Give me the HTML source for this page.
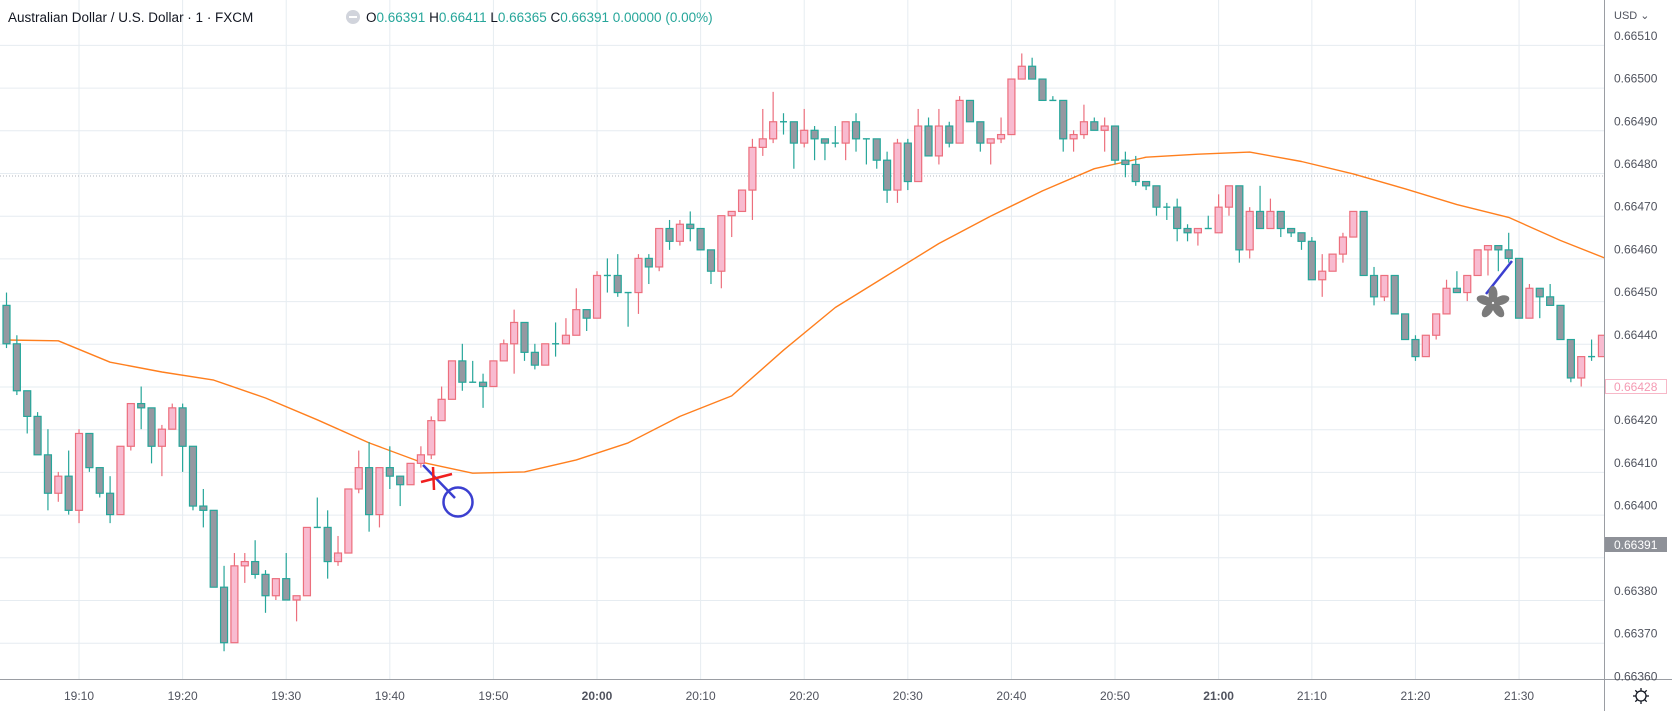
<!DOCTYPE html>
<html><head><meta charset="utf-8">
<style>
html,body{margin:0;padding:0;background:#fff;width:1672px;height:711px;overflow:hidden;font-family:"Liberation Sans",sans-serif;}
svg{display:block}
</style></head>
<body>
<svg id="chart" width="1672" height="711" xmlns="http://www.w3.org/2000/svg">
  <rect x="0" y="0" width="1672" height="711" fill="#fff"/>
  <g id="grid"></g>
  <line x1="0" x2="1604" y1="176" y2="176" stroke="#b2b5be" stroke-dasharray="1,2" stroke-width="1"/>
  <g id="ma"></g>
  <g id="candles"></g>
  <g id="drawings">
    <line x1="423" y1="465" x2="455" y2="498" stroke="#3b3fd0" stroke-width="2.5"/>
    <circle cx="458" cy="502" r="14.5" fill="none" stroke="#3b3fd0" stroke-width="2.5"/>
    <line x1="421" y1="482" x2="452" y2="474" stroke="#f01f1f" stroke-width="2.5"/>
    <line x1="433" y1="467" x2="434" y2="490" stroke="#f01f1f" stroke-width="2.5"/>
    <line x1="1486" y1="294" x2="1512" y2="261" stroke="#3b3fd0" stroke-width="2.5"/>
    <g fill="#7b7b7b" transform="translate(1493,303)">
      <ellipse cx="0" cy="-9" rx="4.5" ry="8"/>
      <ellipse cx="0" cy="-9" rx="4.5" ry="8" transform="rotate(72)"/>
      <ellipse cx="0" cy="-9" rx="4.5" ry="8" transform="rotate(144)"/>
      <ellipse cx="0" cy="-9" rx="4.5" ry="8" transform="rotate(216)"/>
      <ellipse cx="0" cy="-9" rx="4.5" ry="8" transform="rotate(288)"/>
    </g>
  </g>
  <rect x="1605" y="0" width="67" height="711" fill="#fff"/>
  <rect x="0" y="680" width="1672" height="31" fill="#fff"/>
  <line x1="1604.5" y1="0" x2="1604.5" y2="711" stroke="#9a9da3" stroke-width="1"/>
  <line x1="0" y1="679.5" x2="1672" y2="679.5" stroke="#9a9da3" stroke-width="1"/>
  <g id="yaxis"></g>
  <g id="xaxis"></g>
  <text x="1614" y="19" font-size="11" fill="#50535e">USD ⌄</text>
  <rect x="1605" y="537" width="62" height="15" fill="#8e9198"/>
  <text x="1614" y="549" font-size="12" fill="#fff">0.66391</text>
  <rect x="1605.5" y="379.5" width="61" height="14" fill="#fff" stroke="#f7b8c8"/>
  <text x="1614" y="391" font-size="12" fill="#f49ab3">0.66428</text>
  <g transform="translate(1641,696)" stroke="#131722" fill="none" stroke-width="1.3">
    <circle r="5"/>
    <line x1="0" y1="-8" x2="0" y2="-5"/><line x1="0" y1="5" x2="0" y2="8"/>
    <line x1="-8" y1="0" x2="-5" y2="0"/><line x1="5" y1="0" x2="8" y2="0"/>
    <line x1="-5.7" y1="-5.7" x2="-3.5" y2="-3.5"/><line x1="3.5" y1="3.5" x2="5.7" y2="5.7"/>
    <line x1="5.7" y1="-5.7" x2="3.5" y2="-3.5"/><line x1="-3.5" y1="3.5" x2="-5.7" y2="5.7"/>
  </g>
  <g>
    <text x="8" y="22" font-size="13.5" fill="#131722">Australian Dollar / U.S. Dollar · 1 · FXCM</text>
    <circle cx="353" cy="17" r="7" fill="#d1d4dc"/>
    <rect x="349" y="16" width="8" height="2" fill="#fff"/>
    <text x="366" y="22" font-size="13.5" fill="#26a69a"><tspan fill="#131722">O</tspan>0.66391 <tspan fill="#131722">H</tspan>0.66411 <tspan fill="#131722">L</tspan>0.66365 <tspan fill="#131722">C</tspan>0.66391 0.00000 (0.00%)</text>
  </g>
</svg>
<script>
const opens=[66449,66440,66429,66423,66414,66405,66409,66401,66419,66411,66405,66400,66416,66426,66425,66416,66420,66425,66416,66402,66401,66383,66370,66388,66389,66386,66381,66385,66380,66381,66397,66397,66389,66391,66406,66411,66400,66411,66409,66407,66412,66414,66422,66427,66436,66431,66431,66430,66436,66440,66445,66438,66435,66440,66440,66442,66448,66446,66456,66456,66452,66452,66460,66458,66467,66464,66468,66467,66462,66457,66470,66471,66476,66486,66488,66492,66492,66487,66490,66488,66487,66487,66492,66488,66488,66483,66476,66487,66478,66491,66484,66491,66487,66497,66492,66487,66488,66489,66502,66505,66502,66497,66497,66488,66489,66492,66490,66491,66483,66482,66478,66477,66472,66472,66467,66466,66467,66466,66472,66477,66462,66471,66467,66471,66467,66466,66464,66455,66457,66461,66465,66471,66456,66451,66456,66447,66441,66437,66442,66447,66453,66452,66456,66462,66463,66462,66460,66446,66453,66451,66449,66441,66432,66437,66437];
const highs=[66452,66442,66429,66424,66420,66410,66415,66420,66419,66411,66409,66416,66426,66430,66425,66421,66426,66426,66416,66406,66401,66388,66391,66391,66394,66387,66385,66391,66381,66397,66404,66401,66395,66406,66415,66417,66411,66416,66409,66412,66416,66423,66430,66436,66440,66436,66433,66436,66441,66448,66445,66440,66440,66445,66446,66453,66448,66457,66460,66461,66452,66461,66461,66467,66469,66469,66471,66467,66462,66470,66471,66476,66488,66495,66499,66494,66492,66495,66491,66488,66491,66492,66494,66488,66488,66485,66488,66488,66495,66493,66495,66492,66498,66497,66492,66488,66493,66502,66508,66507,66502,66498,66497,66490,66496,66493,66493,66491,66485,66484,66478,66477,66473,66474,66468,66467,66470,66475,66477,66477,66472,66477,66474,66471,66467,66466,66465,66461,66461,66466,66471,66471,66458,66456,66456,66447,66442,66442,66447,66455,66457,66456,66462,66463,66463,66466,66460,66454,66453,66454,66449,66441,66437,66441,66442];
const lows=[66439,66428,66419,66414,66401,66403,66400,66398,66410,66404,66398,66400,66415,66420,66412,66409,66420,66410,66401,66397,66383,66368,66370,66384,66385,66377,66380,66380,66375,66381,66397,66385,66388,66391,66405,66396,66397,66406,66402,66407,66411,66413,66422,66427,66429,66431,66425,66430,66436,66433,66436,66434,66435,66437,66440,66442,66443,66446,66452,66451,66444,66447,66454,66457,66462,66463,66464,66462,66454,66453,66465,66471,66469,66484,66487,66489,66481,66486,66483,66483,66486,66483,66485,66482,66481,66473,66473,66476,66478,66484,66482,66486,66487,66492,66485,66482,66487,66489,66502,66502,66497,66497,66485,66485,66488,66490,66485,66482,66479,66477,66476,66470,66469,66464,66464,66463,66467,66466,66470,66459,66460,66467,66467,66465,66465,66462,66455,66451,66457,66459,66465,66456,66449,66450,66447,66441,66436,66437,66441,66447,66452,66450,66456,66456,66457,66459,66446,66446,66446,66449,66441,66431,66430,66436,66437];
const closes=[66440,66429,66423,66414,66405,66409,66401,66419,66411,66405,66400,66416,66426,66425,66416,66420,66425,66416,66402,66401,66383,66370,66388,66389,66386,66381,66385,66380,66381,66397,66397,66389,66391,66406,66411,66400,66411,66409,66407,66412,66414,66422,66427,66436,66431,66431,66430,66436,66440,66445,66438,66435,66440,66440,66442,66448,66446,66456,66456,66452,66452,66460,66458,66467,66464,66468,66467,66462,66457,66470,66471,66476,66486,66488,66492,66492,66487,66490,66488,66487,66487,66492,66488,66488,66483,66476,66487,66478,66491,66484,66491,66487,66497,66492,66487,66488,66489,66502,66505,66502,66497,66497,66488,66489,66492,66490,66491,66483,66482,66478,66477,66472,66472,66467,66466,66467,66467,66472,66477,66462,66471,66467,66471,66467,66466,66464,66455,66457,66461,66465,66471,66456,66451,66456,66447,66441,66437,66442,66447,66453,66452,66456,66462,66463,66462,66460,66446,66453,66451,66449,66441,66432,66437,66437,66442];
const maIdx=[0,5,10,15,20,25,30,35,40,45,50,55,60,65,70,75,80,85,90,95,100,105,110,115,120,125,130,135,140,145,150,155];
const maVals=[66440.9,66440.7,66435.7,66433.4,66431.5,66427.3,66422.2,66416.8,66412.3,66409.7,66410.0,66412.8,66416.8,66423.0,66427.8,66438.5,66448.5,66456.0,66463.5,66469.9,66475.8,66481.0,66483.7,66484.4,66484.9,66482.7,66479.8,66476.3,66472.6,66469.6,66464.2,66459.4];
const priceTicks=[66510,66500,66490,66480,66470,66460,66450,66440,66430,66420,66410,66400,66390,66380,66370,66360];
const hiddenTicks=[66430,66390];
const timeTickIdx=[7,17,27,37,47,57,67,77,87,97,107,117,126,136,146];
const timeTickLabels=["19:10","19:20","19:30","19:40","19:50","20:00","20:10","20:20","20:30","20:40","20:50","21:00","21:10","21:20","21:30"];
const boldLabels=["20:00","21:00"];

const NS="http://www.w3.org/2000/svg";
function xOf(i){return 6.5+10.36*i;}
function yOf(p){return 600-(p-66380)*4.27;}
function mk(tag,attrs,parent){const e=document.createElementNS(NS,tag);for(const k in attrs)e.setAttribute(k,attrs[k]);parent.appendChild(e);return e;}

const grid=document.getElementById('grid');
priceTicks.forEach(p=>{
  const l=mk('line',{x1:0,x2:1604,y1:yOf(p)+0.5,y2:yOf(p)+0.5,stroke:'#e6ecf1','stroke-width':1},grid);
  
  
});
timeTickIdx.forEach(i=>{
  const l=mk('line',{x1:xOf(i),x2:xOf(i),y1:0,y2:679,stroke:'#e6ecf1','stroke-width':1},grid);
  
  
});

const yaxis=document.getElementById('yaxis');
priceTicks.forEach(p=>{
  if(hiddenTicks.includes(p))return;
  const t=mk('text',{x:1614,y:yOf(p)-5,'font-size':12,fill:'#50535e'},yaxis);
  t.textContent=(p/100000).toFixed(5);
  
  
});
const xaxis=document.getElementById('xaxis');
timeTickIdx.forEach((i,k)=>{
  const lab=timeTickLabels[k];
  const t=mk('text',{x:xOf(i),y:700,'font-size':12,fill:'#50535e','text-anchor':'middle','font-weight':boldLabels.includes(lab)?'bold':'normal'},xaxis);
  t.textContent=lab;
  
  
});

const ma=document.getElementById('ma');
const pts=maIdx.map((i,k)=>xOf(i).toFixed(1)+','+yOf(maVals[k]).toFixed(1)).join(' ');
const pl=mk('polyline',{points:pts,fill:'none',stroke:'#ff7f1e','stroke-width':1.4,'stroke-linejoin':'round'},ma);



const cg=document.getElementById('candles');
opens.forEach((o,i)=>{
  const c=closes[i],h=highs[i],l=lows[i];
  const x=xOf(i);
  const bull=c>o, doji=c===o;
  const stroke=bull?'#ec6f7d':'#26a69a';
  const fill=bull?'#f8bbd0':'#9598a1';
  const g=mk('g',{},cg);
  
  
  const w=mk('line',{x1:x,x2:x,y1:yOf(h),y2:yOf(l),stroke:stroke,'stroke-width':1.2},g);
  
  
  if(doji){
    const d=mk('line',{x1:x-3.5,x2:x+3.5,y1:yOf(o),y2:yOf(o),stroke:stroke,'stroke-width':1.4},g);
    
    
  }else{
    const top=yOf(Math.max(o,c)),bot=yOf(Math.min(o,c));
    const b=mk('rect',{x:x-3.5,y:top,width:7,height:Math.max(1,bot-top),fill:fill,stroke:stroke,'stroke-width':1.2},g);
    
    
  }
});
</script>
</body></html>
